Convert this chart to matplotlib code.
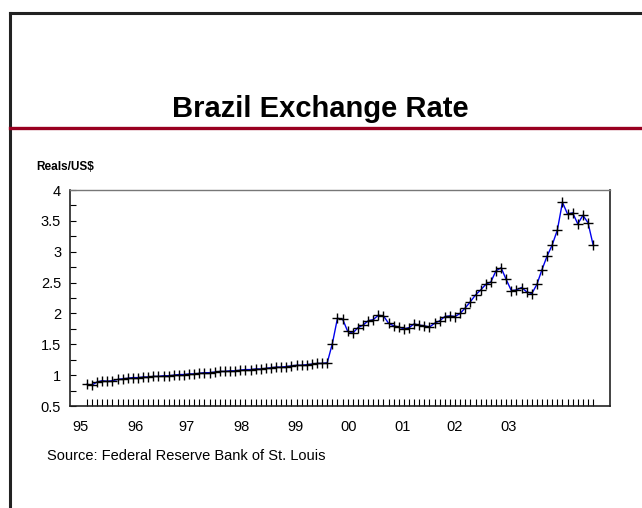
import matplotlib.pyplot as plt
from matplotlib.lines import Line2D
from matplotlib.ticker import MultipleLocator

plt.rcParams['font.family'] = ['Liberation Sans', 'DejaVu Sans']

# monthly Reals per US$, Jan 1995 - Apr 2003
rate = [0.85, 0.84, 0.89, 0.91, 0.90, 0.91, 0.93, 0.94, 0.95, 0.96, 0.96, 0.97,
        0.97, 0.98, 0.98, 0.99, 0.99, 1.00, 1.01, 1.01, 1.02, 1.02, 1.03, 1.04,
        1.04, 1.05, 1.06, 1.06, 1.07, 1.07, 1.08, 1.09, 1.09, 1.10, 1.10, 1.11,
        1.12, 1.13, 1.13, 1.14, 1.15, 1.16, 1.16, 1.17, 1.18, 1.19, 1.19, 1.20,
        1.51, 1.92, 1.91, 1.71, 1.68, 1.77, 1.81, 1.88, 1.90, 1.97, 1.96, 1.84,
        1.80, 1.78, 1.75, 1.77, 1.83, 1.81, 1.80, 1.78, 1.84, 1.88, 1.95, 1.96,
        1.95, 2.00, 2.09, 2.19, 2.30, 2.38, 2.47, 2.51, 2.69, 2.74, 2.55, 2.37,
        2.38, 2.42, 2.35, 2.32, 2.47, 2.71, 2.93, 3.11, 3.35, 3.80, 3.61, 3.63,
        3.45, 3.59, 3.47, 3.11]
months = list(range(len(rate)))

year_labels = ['95', '96', '97', '98', '99', '00', '01', '02', '03']
# label positions as drawn on the original (they do not sit on Januaries)
label_pos = [-1.17, 9.44, 19.55, 30.16, 40.71, 51.27, 61.76, 71.98, 82.54]

fig = plt.figure(figsize=(6.42, 5.08), dpi=100)

# slide frame + red rule
fig.add_artist(Line2D([9.5 / 642, 9.5 / 642], [0, 1 - 12.5 / 508], color='#222222', lw=2.2))
fig.add_artist(Line2D([9.5 / 642, 1], [1 - 12.5 / 508, 1 - 12.5 / 508], color='#222222', lw=2.2))
fig.add_artist(Line2D([9.5 / 642, 1], [1 - 128 / 508, 1 - 128 / 508], color='#990020', lw=2.4))

fig.text(320 / 642, 1 - 109 / 508, 'Brazil Exchange Rate', ha='center', va='center',
         fontsize=21, fontweight='bold')
fig.text(36 / 642, 1 - 167 / 508, 'Reals/US$', ha='left', va='center',
         fontsize=8.5, fontweight='bold')
fig.text(47 / 642, 1 - 456 / 508, 'Source: Federal Reserve Bank of St. Louis',
         ha='left', va='center', fontsize=10.5)

ax = fig.add_axes([69.5 / 642, 1 - 406 / 508, 540.5 / 642, 216 / 508])
ax.plot(months, rate, color='#0000ee', lw=1, marker='+', ms=7.5, mew=1,
        mec='black', mfc='black')

ax.set_xlim(-3.4, 102.3)
ax.set_ylim(0.5, 4)

ax.set_xticks(label_pos)
ax.set_xticklabels(year_labels, fontsize=10.5)
ax.set_xticks(months, minor=True)
ax.tick_params(axis='x', which='major', length=0, pad=10)
ax.tick_params(axis='x', which='minor', direction='in', length=5, width=0.8)

ax.yaxis.set_major_locator(MultipleLocator(0.5))
ax.yaxis.set_minor_locator(MultipleLocator(0.25))
ax.set_yticklabels([f'{v:g}' for v in ax.get_yticks()], fontsize=10.5)
ax.tick_params(axis='y', which='both', direction='in', length=4, width=0.8, pad=6)

for side in ['left', 'bottom', 'right']:
    ax.spines[side].set_color('#222222')
    ax.spines[side].set_linewidth(1.2)
ax.spines['top'].set_color('#777777')
ax.spines['top'].set_linewidth(1)

fig.savefig('out.png', dpi=100)
